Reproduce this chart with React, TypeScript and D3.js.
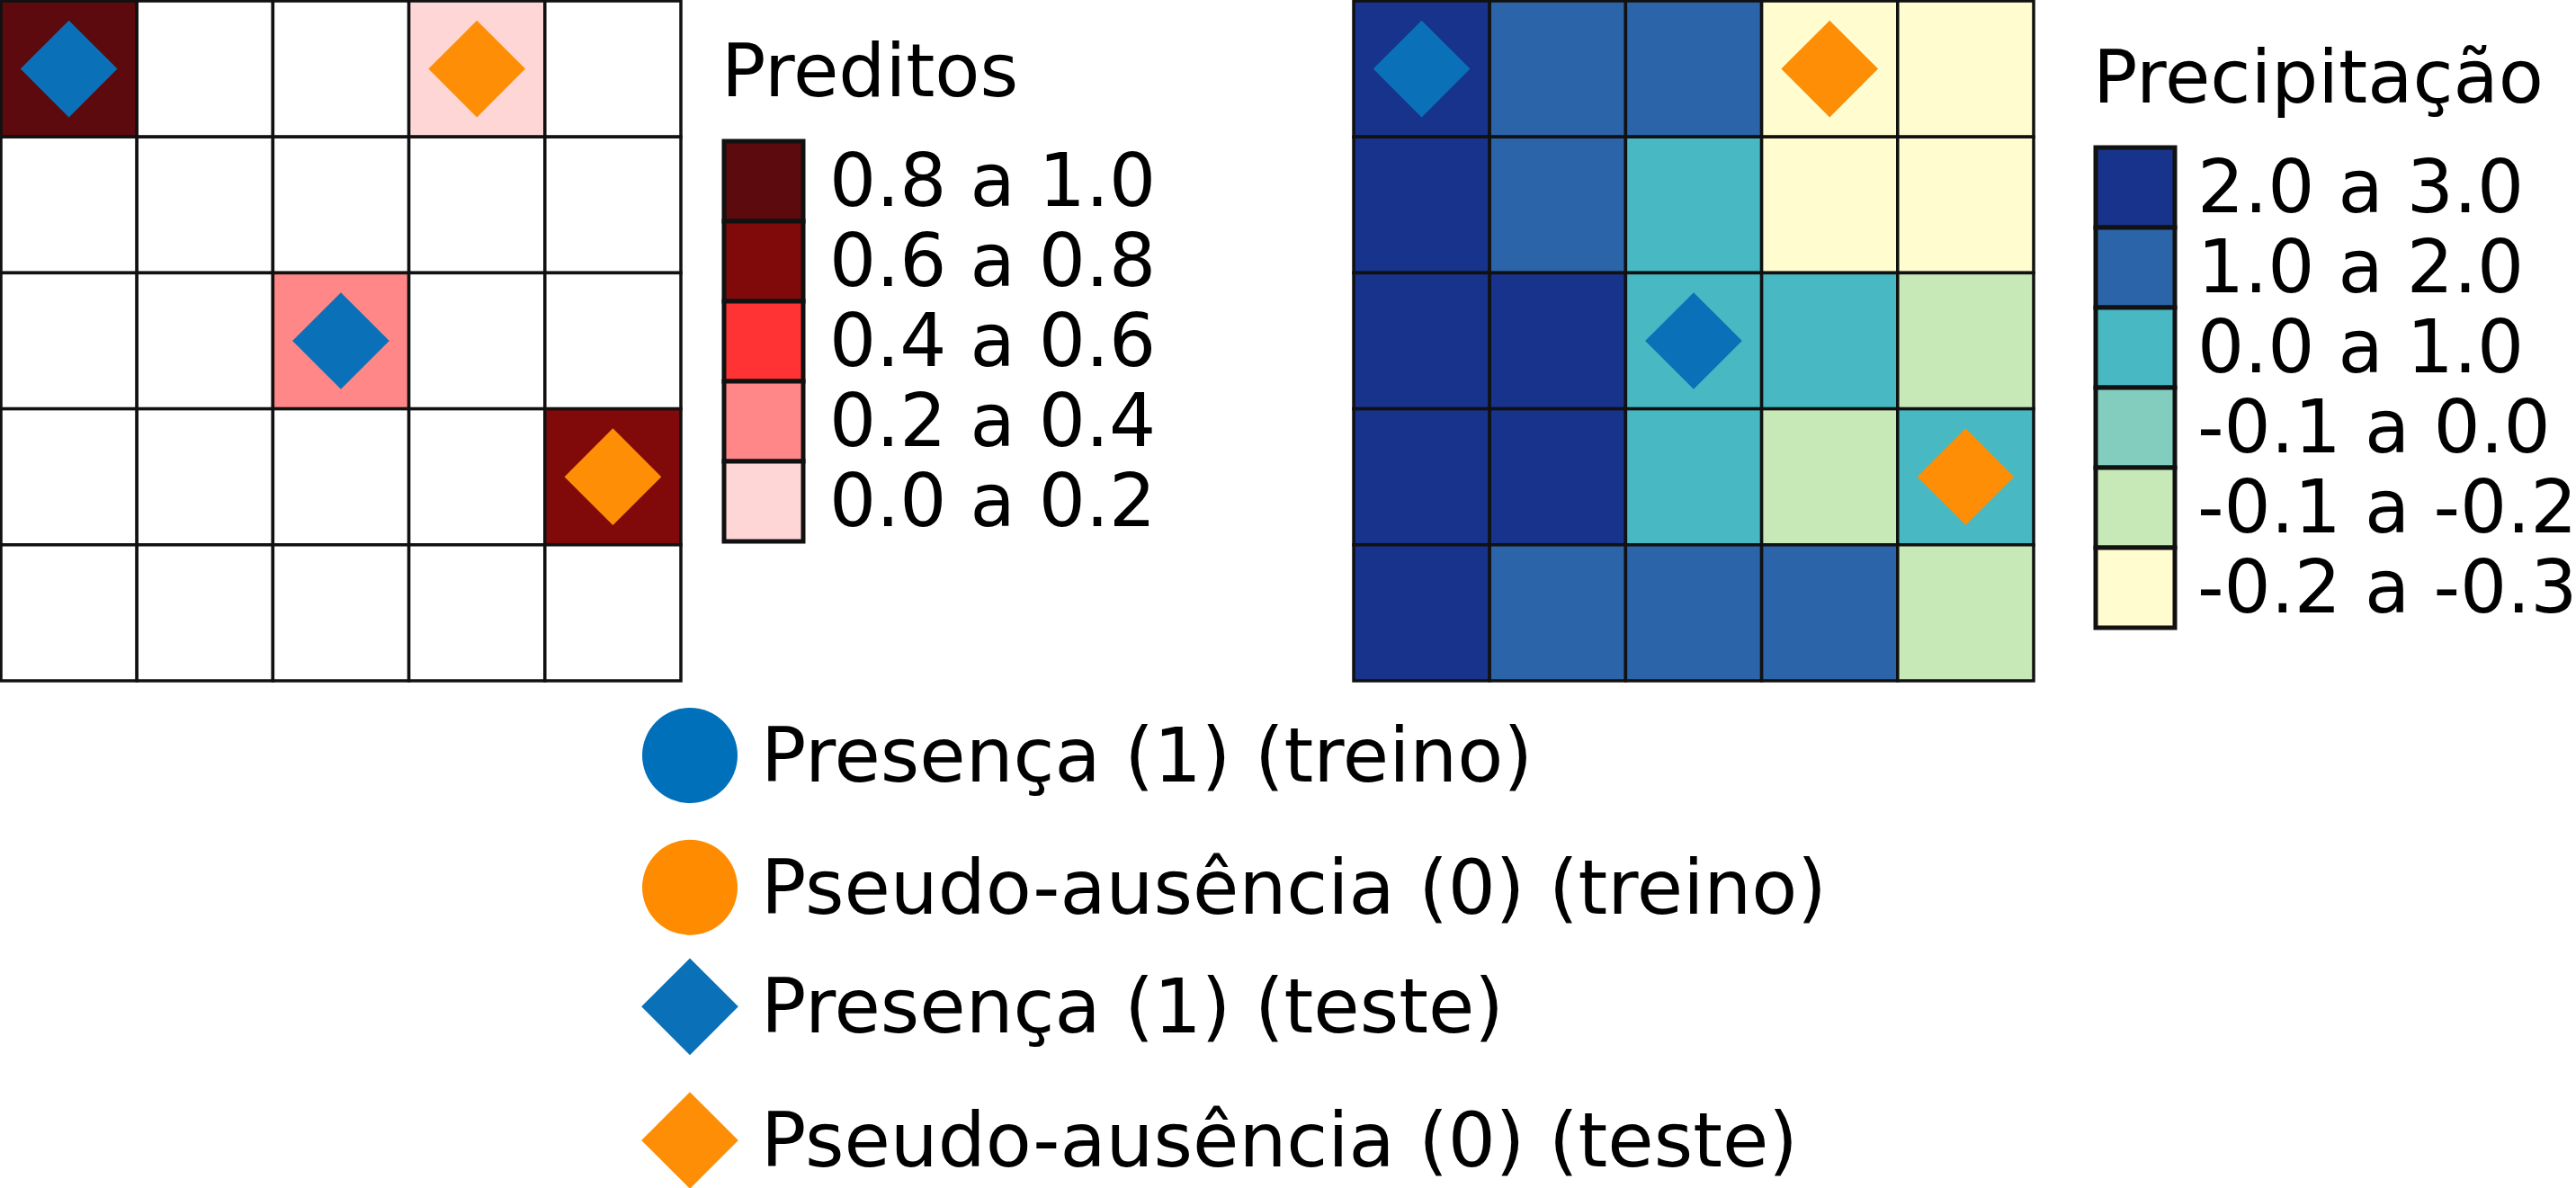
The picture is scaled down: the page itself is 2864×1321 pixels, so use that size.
import * as d3 from 'd3';

// grid cells, row by row (null = no prediction)
const predValues: (number | null)[][] = [
  [0.9, null, null, 0.1, null],
  [null, null, null, null, null],
  [null, null, 0.3, null, null],
  [null, null, null, null, 0.7],
  [null, null, null, null, null],
];

const precipValues: number[][] = [
  [2.5, 1.5, 1.5, -0.25, -0.25],
  [2.5, 1.5, 0.5, -0.25, -0.25],
  [2.5, 2.5, 0.5, 0.5, -0.15],
  [2.5, 2.5, 0.5, -0.15, 0.5],
  [2.5, 1.5, 1.5, 1.5, -0.15],
];

const testPoints = [
  { row: 0, col: 0, cls: 1 },
  { row: 0, col: 3, cls: 0 },
  { row: 2, col: 2, cls: 1 },
  { row: 3, col: 4, cls: 0 },
];

const predThresholds = [0.2, 0.4, 0.6, 0.8];
const predColors = ['#ffd6d6', '#ff8787', '#ff3333', '#800a0a', '#5c0a0d'];
const predLabels = ['0.0 a 0.2', '0.2 a 0.4', '0.4 a 0.6', '0.6 a 0.8', '0.8 a 1.0'];

const precipThresholds = [-0.2, -0.1, 0, 1, 2];
const precipColors = ['#fffdcf', '#c7e9b7', '#82cdbd', '#48b8c3', '#2b64a9', '#17338b'];
const precipLabels = ['-0.2 a -0.3', '-0.1 a -0.2', '-0.1 a 0.0', '0.0 a 1.0', '1.0 a 2.0', '2.0 a 3.0'];

const pointLegend = [
  { label: 'Presença (1) (treino)', cls: 1, shape: 'circle' },
  { label: 'Pseudo-ausência (0) (treino)', cls: 0, shape: 'circle' },
  { label: 'Presença (1) (teste)', cls: 1, shape: 'diamond' },
  { label: 'Pseudo-ausência (0) (teste)', cls: 0, shape: 'diamond' },
];

const W = 2864;
const H = 1321;
const FONT = '"DejaVu Sans", sans-serif';
const FS = 82;
const clsColor = (c: number) => (c === 1 ? '#0a71b9' : '#fd8e06');
const idx = d3.range(5);

const diamondPath = d3.symbol(d3.symbolSquare, 5800)()!;
const circlePath = d3.symbol(d3.symbolCircle, Math.PI * 53 * 53)()!;

function Grid({ x0, values, color }: { x0: number; values: (number | null)[][]; color: (v: number) => string }) {
  const x = d3.scaleBand<number>().domain(idx).range([x0, x0 + 756]);
  const y = d3.scaleBand<number>().domain(idx).range([1, 757]);
  return (
    <g>
      {values.map((row, r) =>
        row.map((v, c) => (
          <rect key={`${r}-${c}`} x={x(c)} y={y(r)} width={x.bandwidth()} height={y.bandwidth()}
            fill={v == null ? '#ffffff' : color(v)} stroke="#111" strokeWidth={3.5} />
        ))
      )}
      {testPoints.map((p, i) => (
        <path key={i} d={diamondPath}
          transform={`translate(${x(p.col)! + x.bandwidth() / 2},${y(p.row)! + y.bandwidth() / 2}) rotate(45)`}
          fill={clsColor(p.cls)} />
      ))}
    </g>
  );
}

function Legend({ x0, top, title, colors, labels, labelDx }: { x0: number; top: number; title: string; colors: string[]; labels: string[]; labelDx: number }) {
  const n = colors.length;
  const order = d3.range(n).reverse();
  const y = d3.scaleBand<number>().domain(d3.range(n)).range([top, top + 89 * n]);
  return (
    <g fontFamily={FONT} fontSize={FS} fill="#000">
      <text x={x0 - 3} y={top - 50}>{title}</text>
      {order.map((k, i) => (
        <g key={k}>
          <rect x={x0} y={y(i)} width={88} height={y.bandwidth()} fill={colors[k]} stroke="#111" strokeWidth={5} />
          <text x={x0 + labelDx} y={y(i)! + 72}>{labels[k]}</text>
        </g>
      ))}
    </g>
  );
}

export default function App() {
  const predColor = d3.scaleThreshold<number, string>().domain(predThresholds).range(predColors);
  const precipColor = d3.scaleThreshold<number, string>().domain(precipThresholds).range(precipColors);
  const legendY = d3.scalePoint<number>().domain(d3.range(4)).range([840, 1268]);
  const rowShift = [0, 4, -6, 0];

  return (
    <div style={{ position: 'absolute', left: 0, top: 0 }}>
      <svg width={W} height={H} viewBox={`0 0 ${W} ${H}`} style={{ display: 'block', background: '#fff' }}>
        <Grid x0={1} values={predValues} color={predColor} />
        <Grid x0={1505} values={precipValues} color={precipColor} />
        <Legend x0={805} top={157} title="Preditos" colors={predColors} labels={predLabels} labelDx={117} />
        <Legend x0={2330} top={164} title="Precipitação" colors={precipColors} labels={precipLabels} labelDx={113} />
        <g fontFamily={FONT} fontSize={83.5}>
          {pointLegend.map((d, i) => {
            const cy = legendY(i)! + rowShift[i];
            return (
              <g key={i}>
                <path d={d.shape === 'circle' ? circlePath : diamondPath}
                  transform={`translate(767,${cy})${d.shape === 'diamond' ? ' rotate(45)' : ''}`}
                  fill={d.shape === 'circle' ? (d.cls === 1 ? '#0070bb' : '#ff8c00') : clsColor(d.cls)} />
                <text x={846} y={cy + 29}>{d.label}</text>
              </g>
            );
          })}
        </g>
      </svg>
    </div>
  );
}
